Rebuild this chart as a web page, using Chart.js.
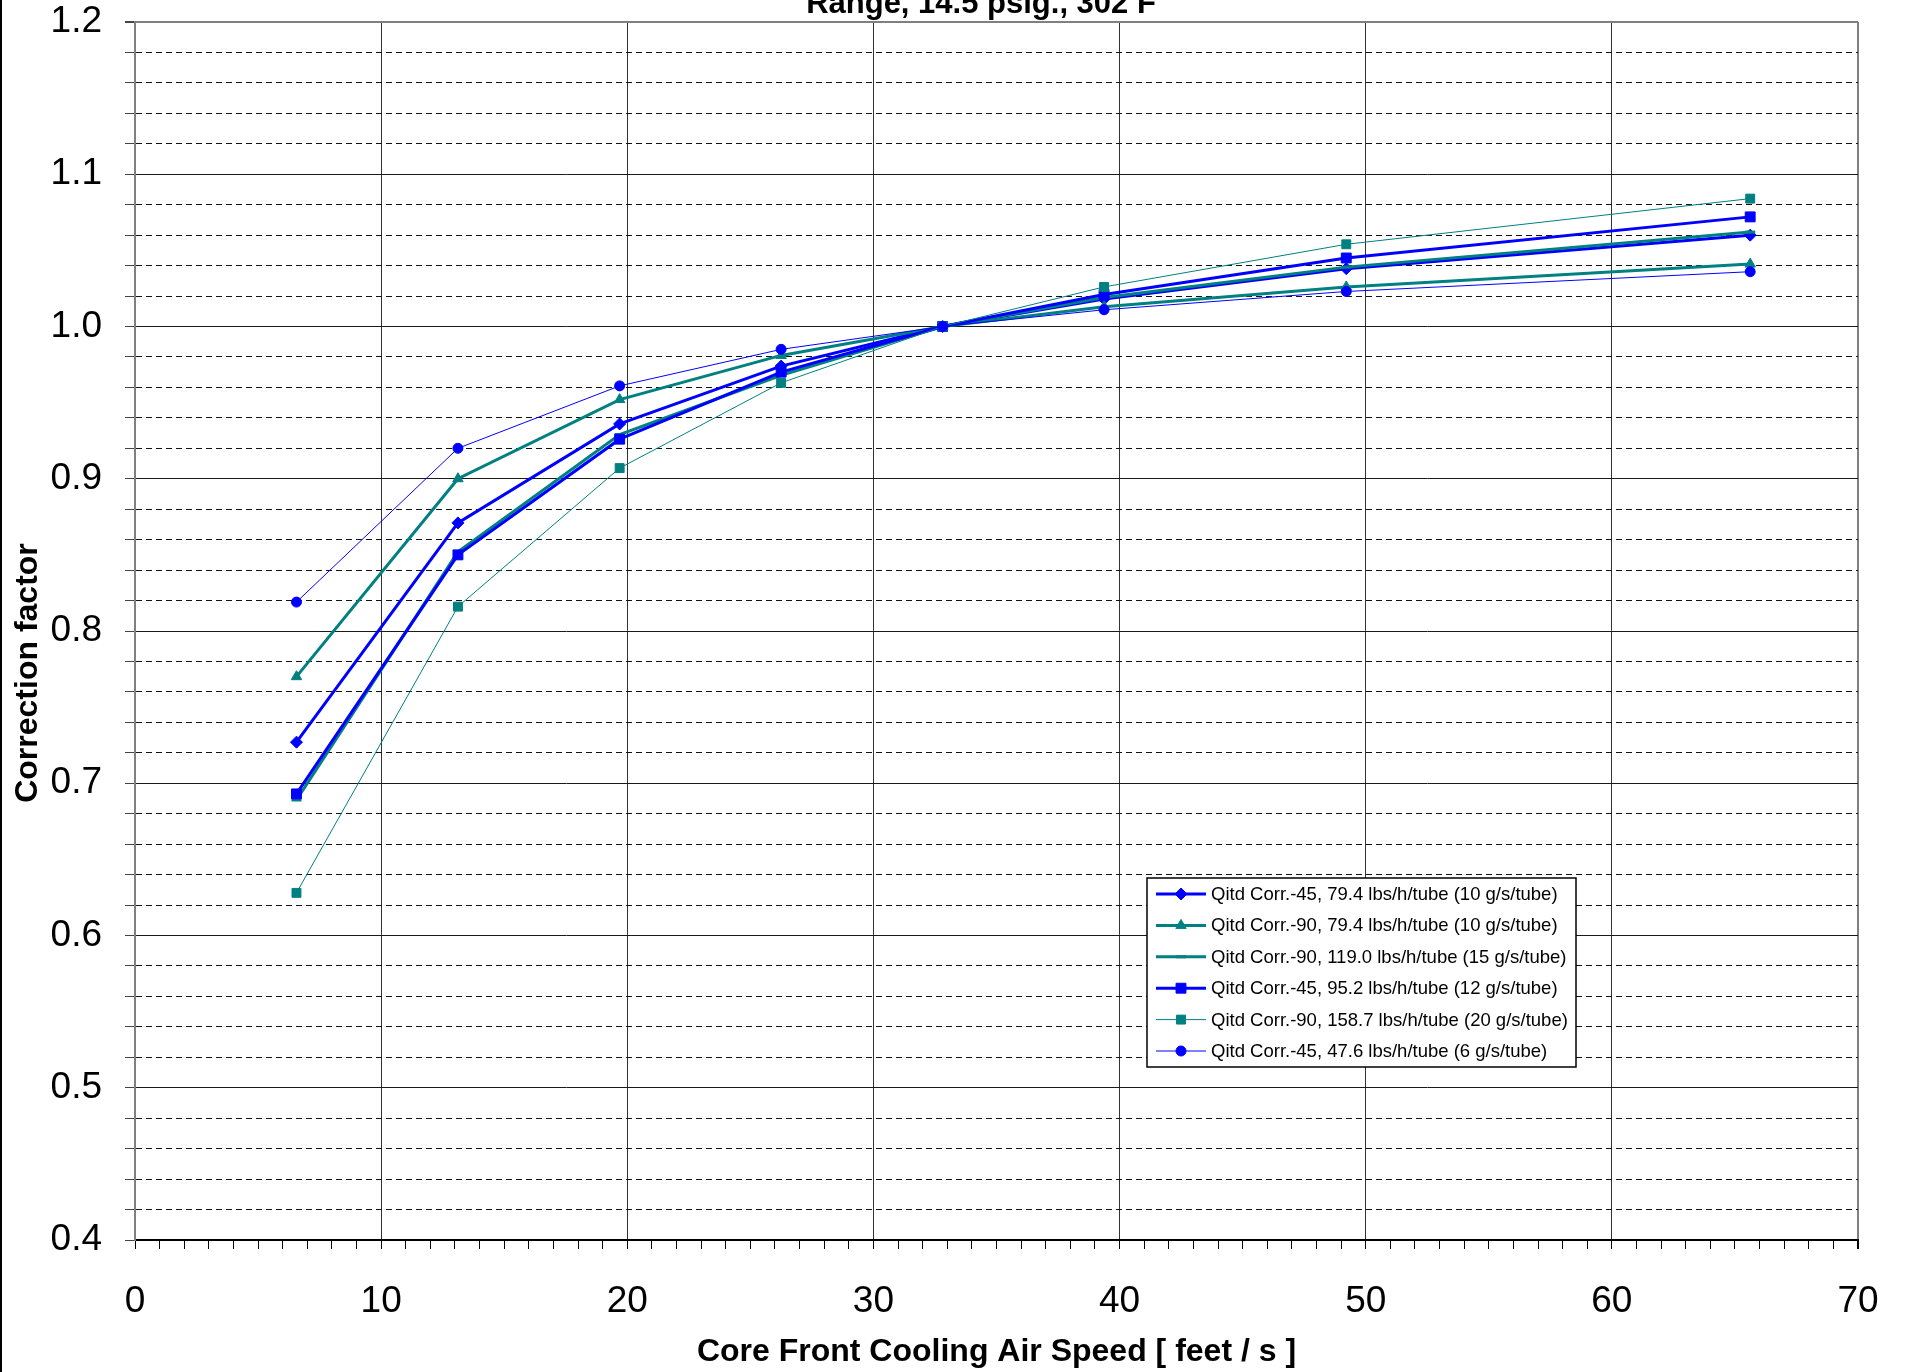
<!DOCTYPE html>
<html>
<head>
<meta charset="utf-8">
<title>Correction factor vs core front cooling air speed</title>
<script src="https://cdn.jsdelivr.net/npm/chart.js@4.4.1/dist/chart.umd.min.js"></script>
<style>
  html, body { margin: 0; padding: 0; background: #fff; }
  #wrap { position: relative; width: 1906px; height: 1372px; }
</style>
</head>
<body>
<div id="wrap"><canvas id="chart" width="1906" height="1372"></canvas></div>
<script>
// air speed in feet/s (2, 4, 6, 8, 10, 12, 15, 20 m/s)
const speeds = [6.56, 13.12, 19.69, 26.25, 32.81, 39.37, 49.21, 65.62];

const corr45_79 = [0.727, 0.871, 0.936, 0.974, 1.0, 1.018, 1.038, 1.060];
const corr90_79 = [0.770, 0.900, 0.952, 0.981, 1.0, 1.013, 1.026, 1.041];
const corr90_119 = [0.689, 0.852, 0.929, 0.968, 1.0, 1.019, 1.039, 1.062];
const corr45_95 = [0.693, 0.850, 0.926, 0.970, 1.0, 1.021, 1.045, 1.072];
const corr90_158 = [0.628, 0.816, 0.907, 0.963, 1.0, 1.026, 1.054, 1.084];
const corr45_47 = [0.819, 0.920, 0.961, 0.985, 1.0, 1.011, 1.023, 1.036];

const seriesLabels = [
  'Qitd Corr.-45, 79.4 lbs/h/tube (10 g/s/tube)',
  'Qitd Corr.-90, 79.4 lbs/h/tube (10 g/s/tube)',
  'Qitd Corr.-90, 119.0 lbs/h/tube (15 g/s/tube)',
  'Qitd Corr.-45, 95.2 lbs/h/tube (12 g/s/tube)',
  'Qitd Corr.-90, 158.7 lbs/h/tube (20 g/s/tube)',
  'Qitd Corr.-45, 47.6 lbs/h/tube (6 g/s/tube)'
];

const chartTitle = 'Range, 14.5 psig., 302 F';
const xTitle = 'Core Front Cooling Air Speed [ feet / s ]';
const yTitle = 'Correction factor';

const blue = '#0000ff';
const teal = '#008080';
const fontFamily = '"Liberation Sans", Arial, sans-serif';

function points(values) {
  return values.map((v, i) => ({ x: speeds[i], y: v }));
}

function series(label, values, color, width, style, radius, order) {
  return {
    label,
    data: points(values),
    borderColor: color,
    backgroundColor: color,
    borderWidth: width,
    pointStyle: style,
    pointRadius: radius,
    pointBorderWidth: style === 'line' ? 3 : 1,
    pointBackgroundColor: color,
    pointBorderColor: color,
    tension: 0,
    order
  };
}

const datasets = [
  series(seriesLabels[0], corr45_79, blue, 3, 'rectRot', 6, 6),
  series(seriesLabels[1], corr90_79, teal, 3, 'triangle', 6, 5),
  series(seriesLabels[2], corr90_119, teal, 3, 'line', 5, 4),
  series(seriesLabels[3], corr45_95, blue, 3, 'rect', 7, 3),
  series(seriesLabels[4], corr90_158, teal, 1, 'rect', 6.3, 2),
  series(seriesLabels[5], corr45_47, blue, 1, 'circle', 5, 1)
];

function isMajorY(v) {
  return Math.abs(v * 10 - Math.round(v * 10)) < 1e-6;
}

function drawMarker(ctx, style, r, x, y, color, bw) {
  ctx.save();
  ctx.fillStyle = color;
  ctx.strokeStyle = color;
  ctx.lineWidth = bw;
  ctx.beginPath();
  if (style === 'circle') {
    ctx.arc(x, y, r, 0, Math.PI * 2);
  } else if (style === 'rect') {
    const s = r * Math.SQRT1_2;
    ctx.rect(x - s, y - s, 2 * s, 2 * s);
  } else if (style === 'rectRot') {
    ctx.moveTo(x - r, y);
    ctx.lineTo(x, y - r);
    ctx.lineTo(x + r, y);
    ctx.lineTo(x, y + r);
    ctx.closePath();
  } else if (style === 'triangle') {
    ctx.moveTo(x, y - r);
    ctx.lineTo(x + r * Math.sin(Math.PI / 3), y + r / 2);
    ctx.lineTo(x - r * Math.sin(Math.PI / 3), y + r / 2);
    ctx.closePath();
  } else if (style === 'line') {
    ctx.moveTo(x - r, y);
    ctx.lineTo(x + r, y);
    ctx.stroke();
    ctx.restore();
    return;
  }
  ctx.fill();
  ctx.stroke();
  ctx.restore();
}

const decorations = {
  id: 'decorations',
  afterDraw(chart) {
    const ctx = chart.ctx;
    ctx.save();

    // outer chart border on the left edge
    ctx.fillStyle = '#000';
    ctx.fillRect(0, 0, 2, chart.height);

    // title, mostly cut off at the top
    ctx.fillStyle = '#000';
    ctx.font = `bold 31px ${fontFamily}`;
    ctx.textAlign = 'center';
    ctx.textBaseline = 'alphabetic';
    ctx.fillText(chartTitle, 981, 13);

    // y axis title
    ctx.save();
    ctx.translate(28, 673);
    ctx.rotate(-Math.PI / 2);
    ctx.font = `bold 32px ${fontFamily}`;
    ctx.textBaseline = 'middle';
    ctx.fillText(yTitle, 0, 0);
    ctx.restore();

    // legend box
    const box = { x: 1147, y: 878, w: 429, h: 189 };
    ctx.fillStyle = '#fff';
    ctx.fillRect(box.x, box.y, box.w, box.h);
    ctx.strokeStyle = '#000';
    ctx.lineWidth = 1.5;
    ctx.strokeRect(box.x, box.y, box.w, box.h);

    ctx.font = `18.5px ${fontFamily}`;
    ctx.textAlign = 'left';
    ctx.textBaseline = 'middle';
    chart.data.datasets.forEach((ds, i) => {
      const cy = 894 + i * 31.4;
      ctx.strokeStyle = ds.borderColor;
      ctx.lineWidth = ds.borderWidth;
      ctx.beginPath();
      ctx.moveTo(1156, cy);
      ctx.lineTo(1206, cy);
      ctx.stroke();
      drawMarker(ctx, ds.pointStyle, ds.pointRadius, 1181, cy, ds.borderColor, ds.pointBorderWidth);
      ctx.fillStyle = '#000';
      ctx.fillText(ds.label, 1211, cy + 1);
    });

    ctx.restore();
  }
};

new Chart(document.getElementById('chart'), {
  type: 'line',
  data: { datasets },
  options: {
    responsive: false,
    devicePixelRatio: 1,
    animation: false,
    layout: { padding: { top: 22, right: 48, left: 0, bottom: 0 } },
    plugins: {
      legend: { display: false },
      tooltip: { enabled: false },
      title: { display: false }
    },
    scales: {
      x: {
        type: 'linear',
        min: 0,
        max: 70,
        afterFit: (scale) => {
          scale.height = 132;
          scale.paddingLeft = 0;
          scale.paddingRight = 0;
        },
        ticks: {
          stepSize: 1,
          maxTicksLimit: 100,
          autoSkip: false,
          maxRotation: 0,
          padding: 31,
          color: '#000',
          font: { family: fontFamily, size: 37 },
          callback: (v) => (v % 10 === 0 ? String(v) : '')
        },
        grid: {
          color: (ctx) => {
            if (!ctx.tick) return 'transparent';
            if (ctx.tick.value === 70) return '#808080';
            return ctx.tick.value % 10 === 0 ? '#333' : 'transparent';
          },
          lineWidth: (ctx) => (ctx.tick && ctx.tick.value === 70 ? 2 : 1),
          tickLength: 9,
          tickColor: '#000'
        },
        border: { color: '#000', width: 2 },
        title: {
          display: true,
          text: xTitle,
          color: '#000',
          font: { family: fontFamily, size: 32, weight: 'bold' },
          padding: { top: 0, bottom: 1 }
        }
      },
      y: {
        min: 0.4,
        max: 1.2,
        afterFit: (scale) => {
          scale.width = 135;
          scale.paddingTop = 0;
          scale.paddingBottom = 0;
        },
        ticks: {
          stepSize: 0.02,
          maxTicksLimit: 100,
          autoSkip: false,
          padding: 23,
          color: '#000',
          font: { family: fontFamily, size: 37, lineHeight: 1 },
          callback: (v) => (isMajorY(v) ? v.toFixed(1) : '')
        },
        grid: {
          color: (ctx) => {
            if (!ctx.tick) return '#111';
            if (Math.abs(ctx.tick.value - 1.2) < 1e-6) return '#808080';
            return isMajorY(ctx.tick.value) ? '#1a1a1a' : '#111';
          },
          lineWidth: (ctx) => (ctx.tick && Math.abs(ctx.tick.value - 1.2) < 1e-6 ? 2 : 1),
          tickLength: 10,
          tickColor: '#444'
        },
        border: {
          color: '#808080',
          width: 2,
          dash: (ctx) => (ctx.tick && !isMajorY(ctx.tick.value) ? [6, 4] : [])
        }
      }
    }
  },
  plugins: [decorations]
});
</script>
</body>
</html>
